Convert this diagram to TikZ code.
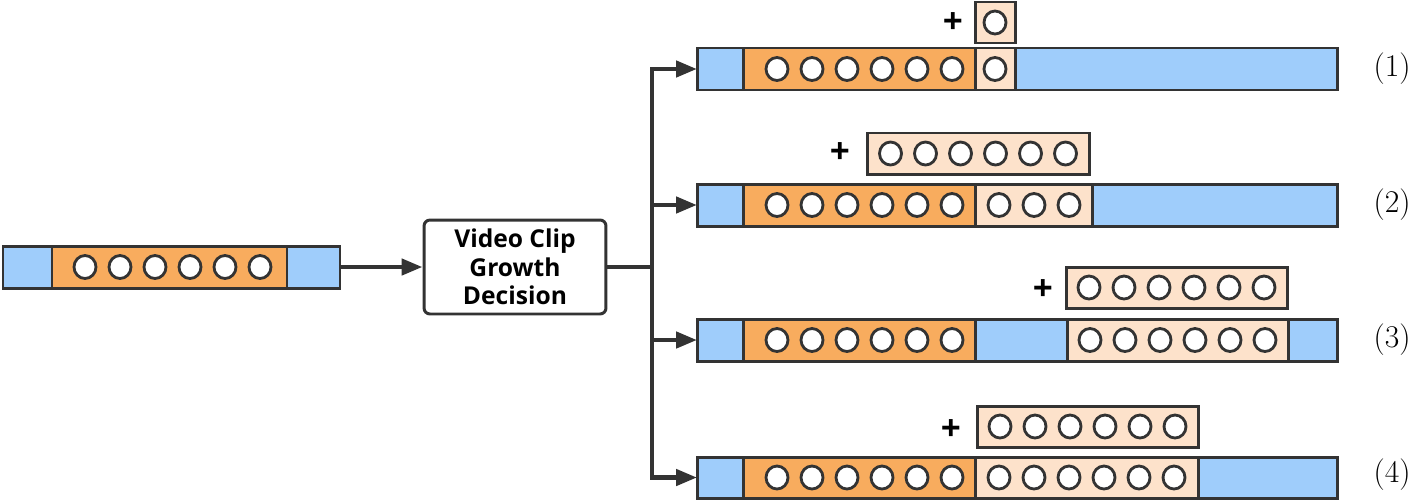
\documentclass[tikz,border=0pt]{standalone}
\usepackage{fontspec}
\usetikzlibrary{arrows.meta,positioning,calc}
\newfontfamily\boxfont{Open Sans}
\definecolor{clipblue}{HTML}{9FCDFB}
\definecolor{cliporange}{HTML}{F8AC5E}
\definecolor{clippeach}{HTML}{FDE2CB}
\definecolor{edgegray}{HTML}{333333}
\tikzset{
  seg/.style={draw=edgegray, line width=1.7pt},
  blueseg/.style={seg, fill=clipblue},
  oldseg/.style={seg, fill=cliporange},
  newseg/.style={seg, fill=clippeach},
  cell/.style={draw=edgegray, line width=1.6pt, fill=white},
  wire/.style={draw=edgegray, line width=2.6pt},
  flow/.style={wire, -{Triangle[length=0.42cm,width=0.32cm]}},
  decision/.style={draw=edgegray, line width=1.7pt, rounded corners=0.12cm, fill=white,
    align=center, minimum width=3.64cm, minimum height=1.88cm,
    font=\boxfont\bfseries\fontsize{14}{16.2}\selectfont},
  plus/.style={font=\boxfont\bfseries\fontsize{20}{20}\selectfont, inner sep=0pt},
  tag/.style={font=\fontsize{18}{20}\selectfont, inner sep=0pt}
}
\newcommand{\cellrow}[3]{% first centre, y, count
  \foreach \k in {1,...,#3}
    \draw[cell] ({#1+35*(\k-1)},#2) circle[x radius=0.22cm, y radius=0.23cm];
}
\begin{document}
\begin{tikzpicture}[x=0.02cm,y=-0.02cm]
\useasboundingbox (0,0) rectangle (1415,501);
% input clip
\draw[blueseg] (3,246) rectangle (340,288);
\draw[oldseg] (52,246) rectangle (287,288);
\cellrow{85}{267}{6}
\coordinate (src) at (340,267);
\node[decision] (dec) at (515,267) {Video Clip\\Growth\\Decision};
\draw[flow] (src) -- (dec);
\coordinate (split) at (652,267);
\draw[wire] (dec) -- (split);
% (1)
\draw[blueseg] (697,48) rectangle (1337,90);
\draw[oldseg] (743,48) rectangle (975,90);
\cellrow{777}{69}{6}
\draw[newseg] (975,48) rectangle (1015,90);
\cellrow{995}{69}{1}
\draw[newseg] (975,2) rectangle (1015,43);
\cellrow{995}{22.5}{1}
\node[plus] (p1) at (953,23) {+};
\node[tag] (t1) at (1392,69) {(1)};
\coordinate (in1) at (697,69);
% (2)
\draw[blueseg] (697,184) rectangle (1337,226);
\draw[oldseg] (743,184) rectangle (975,226);
\cellrow{777}{205}{6}
\draw[newseg] (975,184) rectangle (1092,226);
\cellrow{999}{205}{3}
\draw[newseg] (867,133) rectangle (1089,174);
\cellrow{890.5}{153.5}{6}
\node[plus] (p2) at (840,153) {+};
\node[tag] (t2) at (1392,205) {(2)};
\coordinate (in2) at (697,205);
% (3)
\draw[blueseg] (697,319) rectangle (1337,361);
\draw[oldseg] (743,319) rectangle (975,361);
\cellrow{777}{340}{6}
\draw[newseg] (1067,319) rectangle (1288,361);
\cellrow{1090}{340}{6}
\draw[newseg] (1066,267) rectangle (1287,308);
\cellrow{1089}{287.5}{6}
\node[plus] (p3) at (1043,290) {+};
\node[tag] (t3) at (1392,340) {(3)};
\coordinate (in3) at (697,340);
% (4)
\draw[blueseg] (697,457) rectangle (1337,498);
\draw[oldseg] (743,457) rectangle (975,498);
\cellrow{777}{477.5}{6}
\draw[newseg] (975,457) rectangle (1198,498);
\cellrow{999}{477.5}{6}
\draw[newseg] (977,406) rectangle (1198,447);
\cellrow{1000}{426.5}{6}
\node[plus] (p4) at (951,430) {+};
\node[tag] (t4) at (1392,475) {(4)};
\coordinate (in4) at (697,477.5);
\foreach \r in {1,...,4}
  \draw[flow] (split) |- (in\r);
\end{tikzpicture}
\end{document}
